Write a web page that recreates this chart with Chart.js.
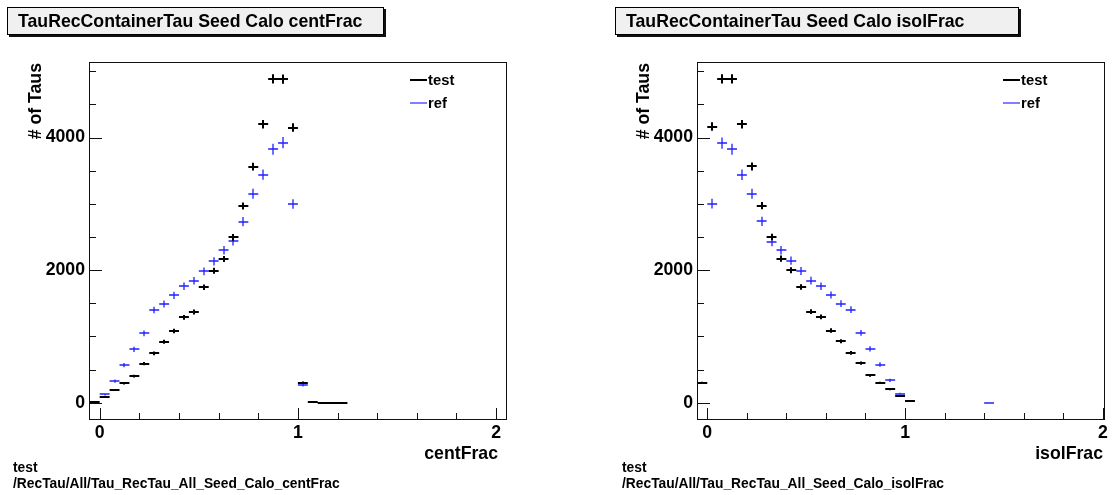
<!DOCTYPE html>
<html>
<head>
<meta charset="utf-8">
<script src="https://cdn.jsdelivr.net/npm/chart.js@4.4.1/dist/chart.umd.min.js"></script>
<style>
  body { margin: 0; background: #fff; }
  #page { position: relative; width: 1115px; height: 495px; overflow: hidden;
          font-family: "Liberation Sans", Arial, sans-serif; font-weight: bold; color: #000; }
  canvas { position: absolute; top: 0; }
  .title { position: absolute; top: 7px; height: 28px; box-sizing: border-box; background: #f0f0f0;
           border: 1px solid #000; box-shadow: 2px 2px 0 #111; font-size: 17.7px; line-height: 26px;
           padding-left: 10px; white-space: nowrap; }
  .ylab { position: absolute; width: 100px; height: 20px; line-height: 20px; text-align: right;
          font-size: 17.7px; transform: rotate(-90deg); white-space: nowrap; }
  .xlab { position: absolute; width: 200px; text-align: right; font-size: 17.7px; line-height: 20px; }
  .foot { position: absolute; font-size: 13.8px; line-height: 16px; white-space: nowrap; }
  .leg { position: absolute; font-size: 14.8px; line-height: 18px; white-space: nowrap; }
  .legline { position: absolute; width: 17px; }
</style>
</head>
<body>
<div id="page">
  <canvas id="centChart" width="557" height="495" style="left:0"></canvas>
  <canvas id="isolChart" width="558" height="495" style="left:557px"></canvas>

  <div class="title" style="left:7px; width:377px">TauRecContainerTau Seed Calo centFrac</div>
  <div class="title" style="left:615px; width:404px">TauRecContainerTau Seed Calo isolFrac</div>

  <div class="ylab" style="left:-15px; top:103px"># of Taus</div>
  <div class="ylab" style="left:593px; top:103px"># of Taus</div>

  <div class="xlab" style="left:298px; top:443px">centFrac</div>
  <div class="xlab" style="left:903px; top:443px">isolFrac</div>

  <div class="foot" style="left:13px; top:460px">test</div>
  <div class="foot" style="left:13px; top:476px">/RecTau/All/Tau_RecTau_All_Seed_Calo_centFrac</div>
  <div class="foot" style="left:622px; top:460px">test</div>
  <div class="foot" style="left:622px; top:476px">/RecTau/All/Tau_RecTau_All_Seed_Calo_isolFrac</div>

  <div class="legline" style="left:410px; top:79px; height:2px; background:#000"></div>
  <div class="leg" style="left:428px; top:71px">test</div>
  <div class="legline" style="left:410px; top:102px; height:2px; background:#8080ff"></div>
  <div class="leg" style="left:428px; top:94px">ref</div>

  <div class="legline" style="left:1003px; top:79px; height:2px; background:#000"></div>
  <div class="leg" style="left:1021px; top:71px">test</div>
  <div class="legline" style="left:1003px; top:102px; height:2px; background:#8080ff"></div>
  <div class="leg" style="left:1021px; top:94px">ref</div>
</div>

<script>
// bin centres (bin width 0.05) and contents
const binWidth = 0.05;

const centFracBins = [-0.025, 0.025, 0.075, 0.125, 0.175, 0.225, 0.275, 0.325, 0.375, 0.425,
                      0.475, 0.525, 0.575, 0.625, 0.675, 0.725, 0.775, 0.825, 0.875, 0.925,
                      0.975, 1.025, 1.075, 1.125, 1.175, 1.225];
const centFracTest = [15, 90, 191, 292, 402, 589, 745, 921, 1082, 1288,
                      1368, 1741, 1992, 2168, 2495, 2968, 3562, 4201, 4885, 4880,
                      4151, 302, 4, 3, 3, 2];
const centFracRef  = [null, 126, 327, 568, 805, 1046, 1399, 1489, 1620, 1756,
                      1841, 1982, 2133, 2299, 2440, 2732, 3154, 3441, 3824, 3924,
                      2998, 267, null, null, null, null];

const isolFracBins = [-0.025, 0.025, 0.075, 0.125, 0.175, 0.225, 0.275, 0.325, 0.375, 0.425,
                      0.475, 0.525, 0.575, 0.625, 0.675, 0.725, 0.775, 0.825, 0.875, 0.925,
                      0.975, 1.025, 1.425];
const isolFracTest = [301, 4167, 4884, 4884, 4202, 3564, 2972, 2500, 2174, 1998,
                      1747, 1375, 1295, 1089, 929, 753, 597, 412, 301, 201,
                      100, 25, null];
const isolFracRef  = [null, 3002, 3916, 3825, 3439, 3153, 2736, 2425, 2299, 2144,
                      1988, 1842, 1757, 1626, 1496, 1406, 1054, 813, 577, 336,
                      136, null, 2];

// tick positions and which of them carry labels
const xTicks = [0, 0.2, 0.4, 0.6, 0.8, 1, 1.2, 1.4, 1.6, 1.8, 2];
const xTickLabels = [0, 1, 2];
const yTicks = [0, 500, 1000, 1500, 2000, 2500, 3000, 3500, 4000, 4500, 5000];
const yTickLabels = [0, 2000, 4000];

Chart.defaults.font.family = "'Liberation Sans', Arial, sans-serif";
Chart.defaults.font.weight = "bold";
Chart.defaults.color = "#000";

function toPoints(bins, values) {
    return bins.map((x, i) => ({ x: x, y: values[i] })).filter(p => p.y !== null);
}

/* ROOT style markers: horizontal bar over the bin, vertical sqrt(N) error */
const errorBars = {
    id: "errorBars",
    afterDatasetsDraw(chart) {
        const { ctx, chartArea: a, scales: { x, y } } = chart;
        ctx.save();
        ctx.beginPath();
        ctx.rect(a.left, a.top, a.right - a.left, a.bottom - a.top);
        ctx.clip();
        chart.data.datasets.forEach(ds => {
            const off = ds.pixelOffset;
            ctx.strokeStyle = ds.borderColor;
            ctx.lineWidth = ds.borderWidth;
            ctx.beginPath();
            ds.data.forEach(p => {
                const err = Math.sqrt(p.y * ds.errScale);
                const xl = x.getPixelForValue(p.x - binWidth / 2);
                const xr = x.getPixelForValue(p.x + binWidth / 2);
                const xc = Math.round(x.getPixelForValue(p.x)) + off;
                const yc = Math.round(y.getPixelForValue(p.y)) + off;
                ctx.moveTo(xl, yc);
                ctx.lineTo(xr, yc);
                ctx.moveTo(xc, y.getPixelForValue(p.y + err));
                ctx.lineTo(xc, y.getPixelForValue(p.y - err));
            });
            ctx.stroke();
        });
        ctx.restore();
    }
};

/* frame and inward ticks */
const rootFrame = {
    id: "rootFrame",
    afterDraw(chart) {
        const { ctx, chartArea: a, scales: { x, y } } = chart;
        ctx.save();
        ctx.strokeStyle = "#111";
        ctx.lineWidth = 1;
        ctx.beginPath();
        x.ticks.forEach(t => {
            const px = Math.round(x.getPixelForValue(t.value)) + 0.5;
            const major = xTickLabels.includes(t.value);
            ctx.moveTo(px, a.bottom);
            ctx.lineTo(px, a.bottom - (major ? 11 : 6));
        });
        y.ticks.forEach(t => {
            const py = Math.round(y.getPixelForValue(t.value)) + 0.5;
            const major = yTickLabels.includes(t.value);
            ctx.moveTo(a.left, py);
            ctx.lineTo(a.left + (major ? 13 : 7), py);
        });
        ctx.stroke();
        ctx.strokeRect(Math.round(a.left) + 0.5, Math.round(a.top) + 0.5,
                       Math.round(a.right - a.left), Math.round(a.bottom - a.top));
        ctx.restore();
    }
};

function makeChart(canvasId, bins, test, ref, xMin, xMax, yWidth, padRight) {
    return new Chart(document.getElementById(canvasId), {
        type: "scatter",
        data: {
            datasets: [{
                label: "ref",
                data: toPoints(bins, ref),
                borderColor: "#2020ff",
                borderWidth: 1.3,
                pixelOffset: 0,
                errScale: 1.8,
                pointRadius: 0
            }, {
                label: "test",
                data: toPoints(bins, test),
                borderColor: "#000000",
                borderWidth: 2,
                pixelOffset: 0,
                errScale: 1,
                pointRadius: 0
            }]
        },
        options: {
            responsive: false,
            animation: false,
            layout: { padding: { left: 0, top: 62, right: padRight, bottom: 0 } },
            scales: {
                x: {
                    type: "linear",
                    min: xMin,
                    max: xMax,
                    grid: { display: false, drawTicks: false },
                    border: { display: false },
                    afterFit: s => { s.height = 76; },
                    afterBuildTicks: s => { s.ticks = xTicks.map(v => ({ value: v })); },
                    ticks: {
                        autoSkip: false,
                        maxRotation: 0,
                        padding: 3,
                        font: { size: 17.7, weight: "bold" },
                        callback: v => xTickLabels.includes(v) ? String(v) : ""
                    }
                },
                y: {
                    min: -245,
                    max: 5140,
                    grid: { display: false, drawTicks: false },
                    border: { display: false },
                    afterFit: s => { s.width = yWidth; },
                    afterBuildTicks: s => { s.ticks = yTicks.map(v => ({ value: v })); },
                    ticks: {
                        autoSkip: false,
                        padding: 4,
                        font: { size: 17.7, weight: "bold" },
                        callback: v => yTickLabels.includes(v) ? String(v) : ""
                    }
                }
            },
            plugins: {
                legend: { display: false },
                tooltip: { enabled: false }
            }
        },
        plugins: [errorBars, rootFrame]
    });
}

makeChart("centChart", centFracBins, centFracTest, centFracRef, -0.054, 2.05, 89, 51);
makeChart("isolChart", isolFracBins, isolFracTest, isolFracRef, -0.052, 2.006, 140, 11);
</script>
</body>
</html>
